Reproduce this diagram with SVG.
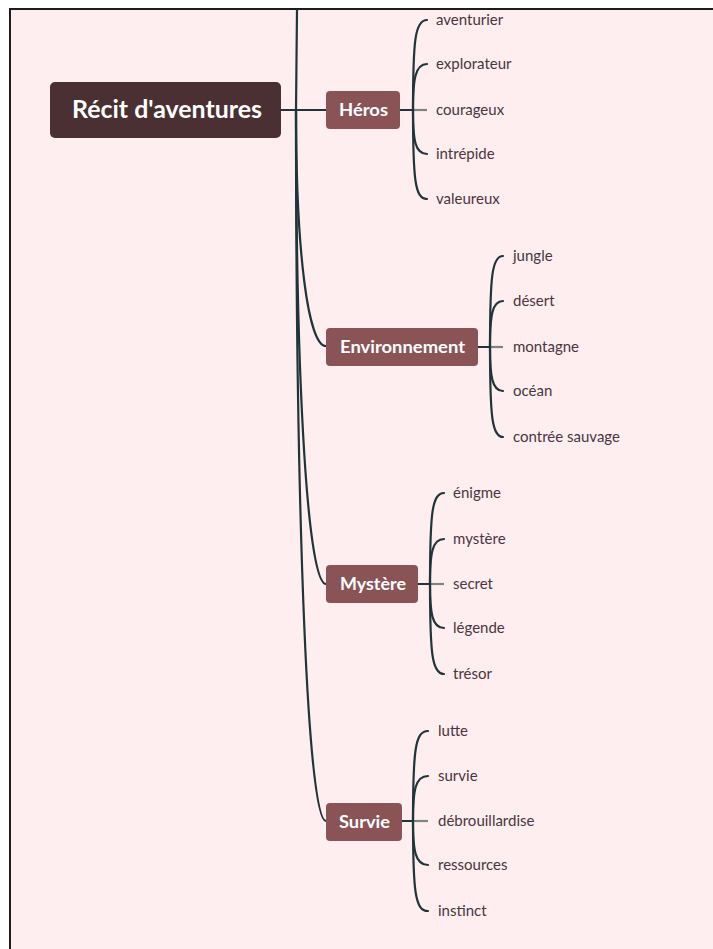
<svg xmlns="http://www.w3.org/2000/svg" width="713" height="949" viewBox="0 0 713 949">
<style>
.bg{fill:#ffeef0;stroke:#1c1c1c;stroke-width:2}
.c{fill:none;stroke:#1f3539;stroke-width:2.2;stroke-linecap:round}
.g{fill:none;stroke:#7d8486;stroke-width:2.2}
.root{fill:#4a3033}
.n{fill:#8a5456}
.rt{font-family:Lato,"Open Sans",sans-serif;font-weight:bold;font-size:24px;fill:#ffffff}
.nt{font-family:Lato,"Open Sans",sans-serif;font-weight:bold;font-size:16.5px;fill:#ffffff}
.lt{font-family:Lato,"Open Sans",sans-serif;font-size:15px;fill:#4a3540}
</style>
<rect x="0" y="0" width="713" height="949" fill="#ffffff"/>
<rect class="bg" x="10" y="9" width="720" height="960"/>
<g id="connectors">
<path class="c" d="M297,10 L296,110"/>
<path class="c" d="M281,110 L326,110"/>
<path class="c" d="M296,110 C296,252 308,346 326,346"/>
<path class="c" d="M296,110 C296,394 308,584 326,584"/>
<path class="c" d="M296,110 C296,536 308,821 326,821"/>
<path class="c" d="M400,110 L413,110"/>
<path class="g" d="M413,110 L427,110"/>
<path class="c" d="M413,110 C413,40 415,20 427,20"/>
<path class="c" d="M413,110 C413,80 415,64 427,64"/>
<path class="c" d="M413,110 C413,140 415,154 427,154"/>
<path class="c" d="M413,110 C413,180 415,199 427,199"/>
<path class="c" d="M478,347 L490,347"/>
<path class="g" d="M490,347 L503,347"/>
<path class="c" d="M490,347 C490,276 492,256 503,256"/>
<path class="c" d="M490,347 C490,316 492,301 503,301"/>
<path class="c" d="M490,347 C490,376 492,391 503,391"/>
<path class="c" d="M490,347 C490,417 492,437 503,437"/>
<path class="c" d="M418,584 L430,584"/>
<path class="g" d="M430,584 L444,584"/>
<path class="c" d="M430,584 C430,513 432,493 444,493"/>
<path class="c" d="M430,584 C430,554 432,539 444,539"/>
<path class="c" d="M430,584 C430,613 432,628 444,628"/>
<path class="c" d="M430,584 C430,654 432,674 444,674"/>
<path class="c" d="M402,821 L413,821"/>
<path class="g" d="M413,821 L428,821"/>
<path class="c" d="M413,821 C413,751 415,731 428,731"/>
<path class="c" d="M413,821 C413,791 415,776 428,776"/>
<path class="c" d="M413,821 C413,850 415,865 428,865"/>
<path class="c" d="M413,821 C413,891 415,911 428,911"/>
</g>
<g id="root">
<rect class="root" x="50" y="82" width="231" height="56" rx="5"/>
<text class="rt" x="72" y="118" textLength="190" lengthAdjust="spacingAndGlyphs">Récit d'aventures</text>
</g>
<g id="heros">
<rect class="n" x="326" y="91" width="74" height="38" rx="4"/>
<text class="nt" x="339" y="116" textLength="49" lengthAdjust="spacingAndGlyphs">Héros</text>
</g>
<g id="environnement">
<rect class="n" x="326" y="328" width="152" height="38" rx="4"/>
<text class="nt" x="340" y="353" textLength="125" lengthAdjust="spacingAndGlyphs">Environnement</text>
</g>
<g id="mystere">
<rect class="n" x="326" y="565" width="92" height="38" rx="4"/>
<text class="nt" x="340" y="590" textLength="66" lengthAdjust="spacingAndGlyphs">Mystère</text>
</g>
<g id="survie">
<rect class="n" x="326" y="803" width="76" height="38" rx="4"/>
<text class="nt" x="339" y="828" textLength="51" lengthAdjust="spacingAndGlyphs">Survie</text>
</g>
<g id="heros-children">
<text class="lt" x="436" y="25">aventurier</text>
<text class="lt" x="436" y="69">explorateur</text>
<text class="lt" x="436" y="115">courageux</text>
<text class="lt" x="436" y="159">intrépide</text>
<text class="lt" x="436" y="204">valeureux</text>
</g>
<g id="environnement-children">
<text class="lt" x="513" y="261">jungle</text>
<text class="lt" x="513" y="306">désert</text>
<text class="lt" x="513" y="352">montagne</text>
<text class="lt" x="513" y="396">océan</text>
<text class="lt" x="513" y="442">contrée sauvage</text>
</g>
<g id="mystere-children">
<text class="lt" x="453" y="498">énigme</text>
<text class="lt" x="453" y="544">mystère</text>
<text class="lt" x="453" y="589">secret</text>
<text class="lt" x="453" y="633">légende</text>
<text class="lt" x="453" y="679">trésor</text>
</g>
<g id="survie-children">
<text class="lt" x="438" y="736">lutte</text>
<text class="lt" x="438" y="781">survie</text>
<text class="lt" x="438" y="826">débrouillardise</text>
<text class="lt" x="438" y="870">ressources</text>
<text class="lt" x="438" y="916">instinct</text>
</g>
</svg>
